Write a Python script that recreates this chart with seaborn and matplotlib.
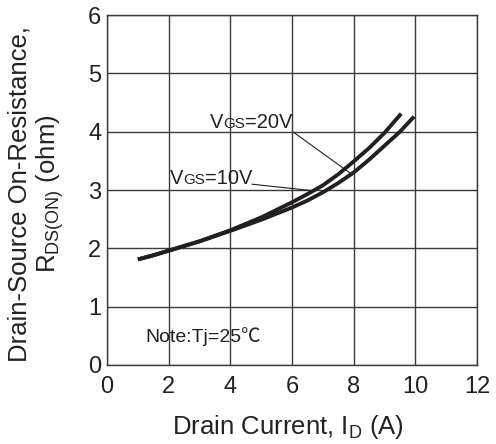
import matplotlib
matplotlib.use("Agg")
import matplotlib.pyplot as plt
import seaborn as sns
import pandas as pd
from matplotlib.offsetbox import TextArea, HPacker, AnnotationBbox

# Data
id_10v = [1.0, 1.5, 2.0, 3.0, 4.0, 5.0, 6.0, 6.5, 7.0, 7.5, 8.0, 8.5, 9.0, 9.54]
r_10v = [1.81, 1.88, 1.96, 2.12, 2.31, 2.53, 2.79, 2.93, 3.08, 3.27, 3.49, 3.72, 3.98, 4.31]
id_20v = [1.0, 1.5, 2.0, 3.0, 4.0, 5.0, 6.0, 6.5, 7.0, 7.5, 8.0, 8.5, 9.0, 9.5, 9.96]
r_20v = [1.81, 1.88, 1.96, 2.12, 2.30, 2.49, 2.70, 2.82, 2.96, 3.12, 3.30, 3.52, 3.76, 4.00, 4.26]
x_ticks = [0, 2, 4, 6, 8, 10, 12]
y_ticks = [0, 1, 2, 3, 4, 5, 6]

df = pd.concat([
    pd.DataFrame({"Id": id_10v, "R": r_10v, "Vgs": "10V"}),
    pd.DataFrame({"Id": id_20v, "R": r_20v, "Vgs": "20V"}),
])

sns.set_theme(style="white")
plt.rcParams['font.family'] = ['Liberation Sans', 'DejaVu Sans']
plt.rcParams['mathtext.fontset'] = 'custom'
plt.rcParams['mathtext.rm'] = 'Liberation Sans'

fig = plt.figure(figsize=(4.96, 4.44), dpi=100)
ax = fig.add_axes([0.2157, 0.178, 0.746, 0.788])

sns.lineplot(data=df, x="Id", y="R", hue="Vgs", palette=["#231f20", "#231f20"],
             linewidth=2.8, legend=False, ax=ax, sort=True)
for ln in ax.lines:
    ln.set_solid_capstyle("butt")
    ln.set_solid_joinstyle("round")

ax.set_xlim(0, 12)
ax.set_ylim(0, 6)
ax.set_xticks(x_ticks)
ax.set_yticks(y_ticks)
ax.grid(True, color="#3a3a3a", linewidth=1.0)
ax.set_axisbelow(True)
for s in ax.spines.values():
    s.set_color("#3a3a3a")
    s.set_linewidth(1.0)
ax.tick_params(axis="both", length=0, labelsize=17, colors="#222222")
ax.tick_params(axis="x", pad=8)
ax.tick_params(axis="y", pad=4)

ax.set_xlabel(r"Drain Current, I$_{\mathregular{D}}$ (A)", fontsize=18.5, color="#222222")
ax.set_ylabel("Drain-Source On-Resistance,\n" + r"R$_{\mathregular{DS(ON)}}$ (ohm)",
              fontsize=18.5, color="#222222", linespacing=1.1)
ax.xaxis.set_label_coords(0.49, -0.138)
ax.yaxis.set_label_coords(-0.112, 0.49)


def vgs_label(x, y, val):
    box = HPacker(children=[TextArea("V", textprops=dict(size=14.5, color="#222222")),
                            TextArea("GS", textprops=dict(size=11, color="#222222")),
                            TextArea("=" + val, textprops=dict(size=14.5, color="#222222"))],
                  align="baseline", pad=0, sep=0)
    ab = AnnotationBbox(box, (x, y), xycoords="data", frameon=False,
                        box_alignment=(0, 0), pad=0)
    ax.add_artist(ab)


vgs_label(3.34, 4.0, "20V")
vgs_label(2.05, 3.03, "10V")
ax.plot([6.05, 7.94], [3.99, 3.27], color="#222222", linewidth=0.8)
ax.plot([4.70, 6.65], [3.10, 2.99], color="#222222", linewidth=0.8)

ax.text(1.24, 0.40, "Note:Tj=25\u2103", fontsize=14, color="#222222", va="baseline",
        family=["Liberation Sans", "Noto Sans CJK SC", "DejaVu Sans"])

fig.savefig("out.png", dpi=100)
